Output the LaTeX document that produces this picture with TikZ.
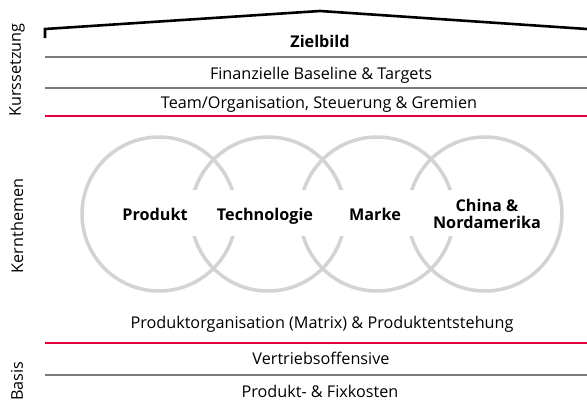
\documentclass[tikz,border=0pt]{standalone}
\usepackage{fontspec}
\setmainfont{Open Sans}
\definecolor{audired}{HTML}{E4003A}
\definecolor{ringgray}{HTML}{D3D3D3}
\definecolor{rulegray}{HTML}{7A7A7A}
\begin{document}
\begin{tikzpicture}[x=1pt,y=-1pt,
  lbl/.style={font=\fontsize{16.2}{17}\selectfont,text=black,inner sep=0pt,anchor=base},
  boldlbl/.style={lbl,font=\fontsize{16.2}{17}\selectfont\bfseries,align=center},
  side/.style={font=\fontsize{16.2}{17}\selectfont,inner sep=0pt,rotate=90},
  grayrule/.style={draw=rulegray,line width=1.3pt},
  redrule/.style={draw=audired,line width=1.3pt},
  ring/.style={draw=ringgray,line width=3.5pt},
  roof/.style={draw=black,line width=2.6pt,line join=miter}]
\useasboundingbox (0,0) rectangle (587,407);
% roof
\coordinate (rt) at (45,38);
\coordinate (rl) at (45,29);
\coordinate (rp) at (320,11);
\coordinate (rr) at (587,29);
\draw[roof] (rt) -- (rl) -- (rp) -- (rr);
% rules
\foreach \n/\y in {a/57,b/88,c/116,d/343,e/375}{
  \coordinate (\n L) at (45,\y);
  \coordinate (\n R) at (587,\y);
}
\draw[grayrule] (aL) -- (aR);
\draw[grayrule] (bL) -- (bR);
\draw[redrule] (cL) -- (cR);
\draw[redrule] (dL) -- (dR);
\draw[grayrule] (eL) -- (eR);
% rings
\foreach \n/\x in {1/159,2/268,3/377,4/485}{
  \node[ring,circle,minimum size=154pt,inner sep=0pt] (ring\n) at (\x,214) {};
}
\fill[white] (100,190) rectangle (548,236);
% texts
\node[boldlbl] (ziel) at (320,47) {Zielbild};
\node[lbl] (fin) at (321,79) {Finanzielle Baseline \& Targets};
\node[lbl] (team) at (319,108) {Team/Organisation, Steuerung \& Gremien};
\node[boldlbl] (prod) at (155,220) {Produkt};
\node[boldlbl] (tech) at (265,220) {Technologie};
\node[boldlbl] (marke) at (375,220) {Marke};
\node[boldlbl] (china) at (487,211) {China \&};
\node[boldlbl] (nord) at (487,228) {Nordamerika};
\node[lbl] (porg) at (322,328) {Produktorganisation (Matrix) \& Produktentstehung};
\node[lbl] (vert) at (321,364) {Vertriebsoffensive};
\node[lbl] (fix) at (320,397) {Produkt- \& Fixkosten};
\node[side] (kurs) at (17,70) {Kurssetzung};
\node[side] (kern) at (17,226) {Kernthemen};
\node[side] (basis) at (17,381) {Basis};
\end{tikzpicture}
\end{document}
